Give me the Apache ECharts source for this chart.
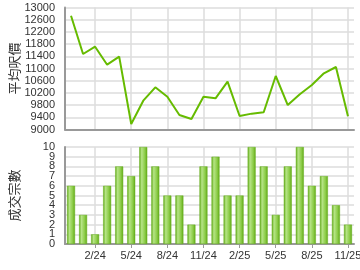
<!DOCTYPE html>
<html>
<head>
<meta charset="utf-8">
<script src="https://cdn.jsdelivr.net/npm/echarts@6/dist/echarts.min.js"></script>
<style>
html,body{margin:0;padding:0;background:#fff;}
#chart{width:360px;height:270px;}
</style>
</head>
<body>
<div id="chart"></div>
<script>
const months = ['12/23','1/24','2/24','3/24','4/24','5/24','6/24','7/24','8/24','9/24','10/24','11/24',
                '12/24','1/25','2/25','3/25','4/25','5/25','6/25','7/25','8/25','9/25','10/25','11/25'];
const avgPrice = [12730,11475,11715,11125,11387,9180,9945,10383,10076,9475,9344,10076,
                  10023,10568,9443,9520,9564,10754,9803,10154,10459,10842,11049,9433];
const deals = [6,3,1,6,8,7,10,8,5,5,2,8,9,5,5,10,8,3,8,10,6,7,4,2];
const priceTicks = {min:9000, max:13000, interval:400};
const dealTicks = {min:0, max:10, interval:1};
const dealTickLabels = ['0','1','2','3','4','5','6','7','8','9','10'];
const priceName = '平均呎價';
const dealName = '成交宗數';

const font = '"Liberation Sans", Arial, sans-serif';
const cjk = '"Noto Sans CJK TC", sans-serif';
const labelIdx = (i) => i % 3 === 2;
const gridLineStyle = {color:'#dddddd', width:1.5};
const axisLineStyle = {color:'#999999', width:2};
const yLabel = {color:'#333', fontFamily:font, fontSize:11, margin:10,
  showMinLabel:true, showMaxLabel:true, formatter:(v)=>String(v)};

const chart = echarts.init(document.getElementById('chart'));
chart.setOption({
  animation:false,
  backgroundColor:'#ffffff',
  grid:[
    {left:65, right:6, top:7.5, height:122, outerBoundsMode:'none'},
    {left:65, right:6, top:147, height:97, outerBoundsMode:'none'}
  ],
  xAxis:[
    {type:'category', gridIndex:0, data:months, boundaryGap:true,
     axisLine:{show:true, lineStyle:axisLineStyle},
     axisTick:{show:false},
     axisLabel:{show:false, interval:labelIdx},
     splitLine:{show:true, interval:labelIdx, alignWithLabel:true, lineStyle:gridLineStyle}},
    {type:'category', gridIndex:1, data:months, boundaryGap:true,
     axisLine:{show:true, lineStyle:axisLineStyle},
     axisTick:{show:true, alignWithLabel:true, interval:labelIdx, length:4, lineStyle:{color:'#999'}},
     axisLabel:{show:true, interval:labelIdx, color:'#333', fontFamily:font, fontSize:11, margin:6},
     splitLine:{show:true, interval:labelIdx, alignWithLabel:true, lineStyle:gridLineStyle}}
  ],
  yAxis:[
    {type:'value', gridIndex:0, position:'left', min:priceTicks.min, max:priceTicks.max, interval:priceTicks.interval,
     name:priceName, nameLocation:'middle', nameRotate:90, nameGap:44, nameMoveOverlap:false,
     nameTextStyle:{fontFamily:cjk, fontSize:13, color:'#333'},
     axisLine:{show:true, lineStyle:axisLineStyle},
     axisTick:{show:false},
     axisLabel:yLabel,
     splitLine:{show:true, lineStyle:gridLineStyle}},
    {type:'value', gridIndex:1, position:'left', min:dealTicks.min, max:dealTicks.max, interval:dealTicks.interval,
     axisLine:{show:true, lineStyle:axisLineStyle},
     axisTick:{show:false},
     axisLabel:{show:false},
     splitLine:{show:true, lineStyle:gridLineStyle}},
    {type:'category', gridIndex:1, position:'left', offset:0, data:dealTickLabels, boundaryGap:false,
     name:dealName, nameLocation:'middle', nameRotate:90, nameGap:44, nameMoveOverlap:false,
     nameTextStyle:{fontFamily:cjk, fontSize:13, color:'#333'},
     axisLine:{show:false}, axisTick:{show:false}, splitLine:{show:false},
     axisLabel:{color:'#333', fontFamily:font, fontSize:11, margin:10, interval:0,
       showMinLabel:true, showMaxLabel:true}}
  ],
  series:[
    {type:'line', xAxisIndex:0, yAxisIndex:0, data:avgPrice, showSymbol:false, symbol:'none',
     lineStyle:{color:'#66bb00', width:2}, z:5},
    {type:'bar', xAxisIndex:1, yAxisIndex:1, data:deals, barWidth:8,
     itemStyle:{
       color:new echarts.graphic.LinearGradient(0,0,1,0,[
         {offset:0, color:'#5ea814'},
         {offset:0.3, color:'#b6e486'},
         {offset:0.7, color:'#8ccc48'},
         {offset:1, color:'#5ea814'}
       ]),
       borderColor:'#66b01c', borderWidth:0.5
     }}
  ]
});
</script>
</body>
</html>
